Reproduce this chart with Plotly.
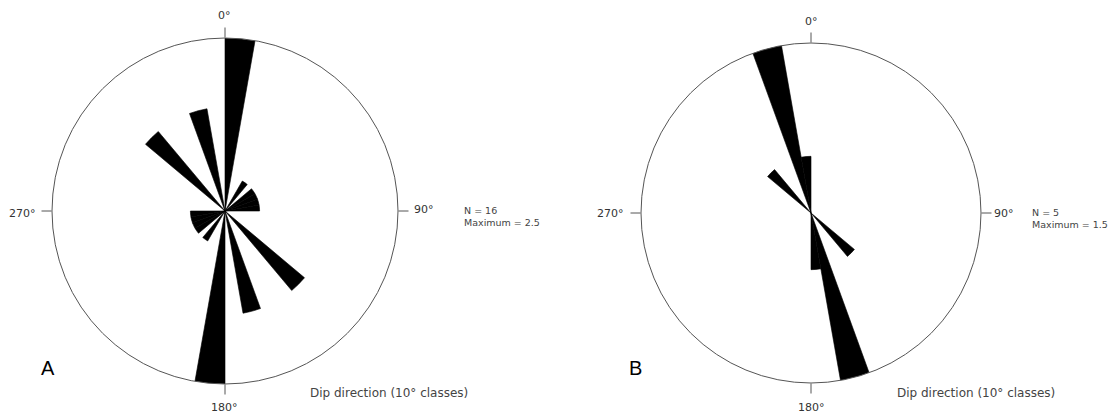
import plotly.graph_objects as go

# Rose A (bidirectional, 10° classes)
a_theta = [5, 35, 55, 65, 75, 85, 135, 165, 185, 215, 235, 245, 255, 265, 315, 345]
a_r = [2.5, 0.5, 0.5, 0.5, 0.5, 0.5, 1.5, 1.5, 2.5, 0.5, 0.5, 0.5, 0.5, 0.5, 1.5, 1.5]
a_n = 16
a_max = 2.5

# Rose B
b_theta = [135, 165, 175, 315, 345, 355]
b_r = [0.5, 1.5, 0.5, 0.5, 1.5, 0.5]
b_n = 5
b_max = 1.5

tick_vals = [0, 90, 180, 270]
tick_text = ["0°", "90°", "180°", "270°"]

OFF = 8  # page body margin
W, H = 1120 - OFF, 418 - OFF


def px(x):
    return (x - OFF) / W


def py(y):
    return 1 - (y - OFF) / H


fig = go.Figure()
fig.add_trace(go.Barpolar(theta=a_theta, r=a_r, width=[10] * len(a_theta),
                          marker=dict(color="black", line=dict(width=0.6, color="black")),
                          subplot="polar"))
fig.add_trace(go.Barpolar(theta=b_theta, r=b_r, width=[10] * len(b_theta),
                          marker=dict(color="black", line=dict(width=0.6, color="black")),
                          subplot="polar2"))


def polar_cfg(cx, cy, rad, rmax):
    return dict(
        domain=dict(x=[px(cx - rad), px(cx + rad)], y=[py(cy + rad), py(cy - rad)]),
        bgcolor="white",
        bargap=0,
        radialaxis=dict(visible=False, range=[0, rmax]),
        angularaxis=dict(rotation=90, direction="clockwise", showgrid=False,
                         showline=True, linecolor="#555", linewidth=1,
                         tickmode="array", tickvals=tick_vals, ticktext=tick_text,
                         showticklabels=False,
                         ticks="outside", ticklen=10, tickcolor="#555", tickwidth=1),
    )


fig.update_layout(
    width=W, height=H,
    margin=dict(l=0, r=0, t=0, b=0),
    paper_bgcolor="white", plot_bgcolor="white",
    showlegend=False,
    polar=polar_cfg(225, 211, 173, a_max),
    polar2=polar_cfg(811, 213, 170, b_max),
)

tickf = dict(family="DejaVu Sans", size=11, color="#333")
small = dict(family="DejaVu Sans", size=9.5, color="#444")
dipf = dict(family="DejaVu Sans", size=12, color="#444")
letf = dict(family="Liberation Sans", size=20, color="black")

annos = [
    # rose A tick labels
    (224, 15, tick_text[0], "center", tickf),
    (412, 209, tick_text[1], "left", tickf),
    (224, 407, tick_text[2], "center", tickf),
    (38, 213, tick_text[3], "right", tickf),
    # rose B tick labels
    (811, 21, tick_text[0], "center", tickf),
    (992, 213, tick_text[1], "left", tickf),
    (811, 407, tick_text[2], "center", tickf),
    (626, 213, tick_text[3], "right", tickf),
    # stats
    (462, 210, f"N = {a_n}", "left", small),
    (462, 222, f"Maximum = {a_max}", "left", small),
    (1030, 212, f"N = {b_n}", "left", small),
    (1030, 224, f"Maximum = {b_max}", "left", small),
    (308, 393, "Dip direction (10° classes)", "left", dipf),
    (895, 393, "Dip direction (10° classes)", "left", dipf),
    (39, 368, "A", "left", letf),
    (627, 368, "B", "left", letf),
]
for x, y, t, anc, f in annos:
    fig.add_annotation(xref="paper", yref="paper", x=px(x), y=py(y), text=t,
                       xanchor=anc, yanchor="middle", showarrow=False, font=f)

fig.write_html("out.html")
